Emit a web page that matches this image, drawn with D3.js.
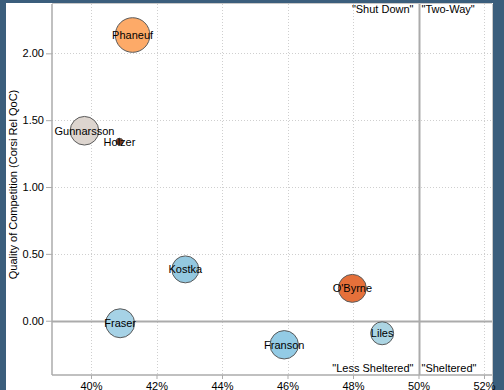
<!DOCTYPE html>
<html>
<head>
<meta charset="utf-8">
<script src="https://cdnjs.cloudflare.com/ajax/libs/d3/7.8.5/d3.min.js"></script>
<style>
  html, body { margin: 0; padding: 0; background: #3b5e7c; }
  svg { display: block; }
  text { font-family: "Liberation Sans", Arial, sans-serif; font-size: 11px; fill: #000; }
</style>
</head>
<body>
<svg id="chart" width="504" height="390"></svg>
<script>
// ---- data ----
const players = ["Phaneuf", "Gunnarsson", "Holzer", "Kostka", "Fraser", "Franson", "O'Byrne", "Liles"];
const zoneStart = [41.27, 39.80, 40.87, 42.88, 40.89, 45.90, 47.98, 48.89];       // Offensive zone start %
const qoc = [2.137, 1.421, 1.339, 0.384, -0.019, -0.180, 0.242, -0.094];          // Corsi Rel QoC
const toi = [300, 205, 12, 182, 210, 202, 196, 132];                              // bubble size measure
const xTicks = [40, 42, 44, 46, 48, 50, 52];
const yTicks = [0, 0.5, 1.0, 1.5, 2.0];
const quadrantLabels = ["\"Shut Down\"", "\"Two-Way\"", "\"Less Sheltered\"", "\"Sheltered\""];

// ---- styles ----
const bubbleColors = ["#fdaa68", "#ddd5cf", "#7f3b1e", "#93c8e0", "#a6d2e6", "#93cbe5", "#e5703a", "#acd5e3"];

const svg = d3.select("#chart");
const W = 504, H = 390;
const m = { left: 52, right: 492, top: 4, bottom: 375 };

// white panel
svg.append("rect").attr("x", 6).attr("y", 3).attr("width", 487).attr("height", H - 3).attr("fill", "#fff");

const x = d3.scaleLinear().domain([38.809, 52.244]).range([m.left, m.right]);
const y = d3.scaleLinear().domain([-0.406, 2.369]).range([m.bottom, m.top]);
const r = d3.scaleSqrt().domain([0, d3.max(toi)]).range([0, 17.3]);

// frame top/right
svg.append("line").attr("x1", m.left).attr("x2", m.right).attr("y1", m.top - 0.5).attr("y2", m.top - 0.5).attr("stroke", "#c8c8c8");
svg.append("line").attr("x1", m.right + 0.5).attr("x2", m.right + 0.5).attr("y1", m.top).attr("y2", H).attr("stroke", "#c8c8c8");

// grid
const grid = svg.append("g");
grid.selectAll("line.vx").data(xTicks).join("line")
  .attr("x1", d => Math.round(x(d)) + 0.5).attr("x2", d => Math.round(x(d)) + 0.5)
  .attr("y1", m.top).attr("y2", m.bottom)
  .attr("stroke", "#cfcfcf").attr("stroke-dasharray", "1,2");
grid.selectAll("line.hy").data(yTicks).join("line")
  .attr("y1", d => Math.round(y(d)) + 0.5).attr("y2", d => Math.round(y(d)) + 0.5)
  .attr("x1", m.left).attr("x2", m.right)
  .attr("stroke", "#cfcfcf").attr("stroke-dasharray", "1,2");

// quadrant divider lines
svg.append("line").attr("x1", m.left).attr("x2", m.right)
  .attr("y1", Math.round(y(0)) + 0.5).attr("y2", Math.round(y(0)) + 0.5)
  .attr("stroke", "#ababab").attr("stroke-width", 2);
svg.append("line").attr("y1", m.top).attr("y2", m.bottom)
  .attr("x1", Math.round(x(50)) + 0.5).attr("x2", Math.round(x(50)) + 0.5)
  .attr("stroke", "#ababab").attr("stroke-width", 2);

// axes
const xAxis = d3.axisBottom(x).tickValues(xTicks).tickFormat(d => d + "%").tickSize(4).tickPadding(3);
const gx = svg.append("g").attr("transform", `translate(0,${m.bottom})`).call(xAxis);
const yAxis = d3.axisLeft(y).tickValues(yTicks).tickFormat(d3.format(".2f")).tickSize(6).tickPadding(2);
const gy = svg.append("g").attr("transform", `translate(${m.left},0)`).call(yAxis);
[gx, gy].forEach(g => {
  g.select(".domain").attr("stroke", "#ababab").attr("stroke-width", 1.5);
  g.selectAll(".tick line").attr("stroke", "#ababab");
  g.selectAll(".tick text").attr("font-family", "Liberation Sans, Arial, sans-serif").attr("font-size", 11).attr("fill", "#000");
});
gx.select(".domain").attr("d", `M${m.left},0H${m.right}`);
gy.select(".domain").attr("d", `M0,${m.top}V${m.bottom}`);

// y-axis title
svg.append("text")
  .attr("transform", `translate(17,${(m.top + m.bottom) / 2 - 5}) rotate(-90)`)
  .attr("text-anchor", "middle")
  .text("Quality of Competition (Corsi Rel QoC)");

// quadrant labels
const xm = x(50);
svg.append("text").attr("x", xm - 5).attr("y", 13).attr("text-anchor", "end").text(quadrantLabels[0]);
svg.append("text").attr("x", xm + 3).attr("y", 13).attr("text-anchor", "start").text(quadrantLabels[1]);
svg.append("text").attr("x", xm - 5).attr("y", 372).attr("text-anchor", "end").text(quadrantLabels[2]);
svg.append("text").attr("x", xm + 3).attr("y", 372).attr("text-anchor", "start").text(quadrantLabels[3]);

// bubbles
const data = players.map((p, i) => ({ name: p, x: zoneStart[i], y: qoc[i], s: toi[i], c: bubbleColors[i] }));
const nodes = svg.append("g").selectAll("g").data(data).join("g");
nodes.append("circle")
  .attr("cx", d => x(d.x)).attr("cy", d => y(d.y)).attr("r", d => r(d.s))
  .attr("fill", d => d.c).attr("stroke", "#5a5a5a").attr("stroke-width", 1);
nodes.append("text")
  .attr("x", d => x(d.x)).attr("y", d => y(d.y) + 4)
  .attr("text-anchor", "middle")
  .text(d => d.name);
</script>
</body>
</html>
